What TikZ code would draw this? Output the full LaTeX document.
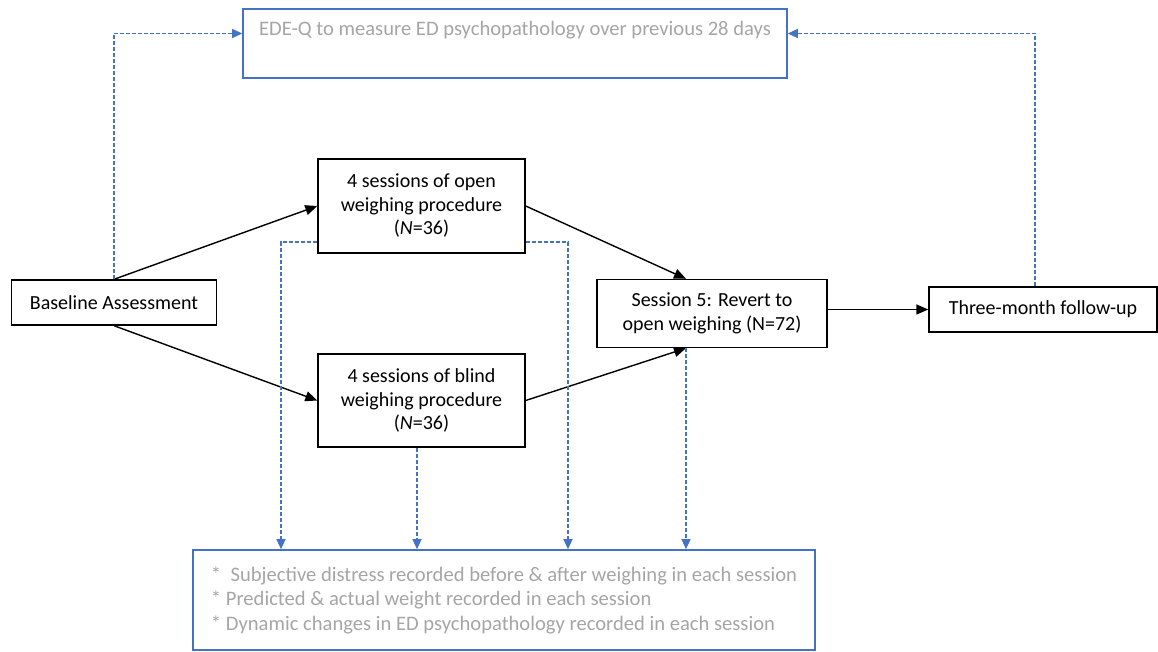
\documentclass[tikz,border=0pt]{standalone}
\usepackage{fontspec}
\setmainfont{Carlito}
\usetikzlibrary{arrows.meta}
\definecolor{edblue}{HTML}{4472C4}
\definecolor{edgrey}{HTML}{A5A5A5}
\begin{document}
\begin{tikzpicture}[x=0.5pt,y=-0.5pt,
    font=\fontsize{10}{11.75}\selectfont,
    box/.style={draw,line width=0.7pt,align=center,inner sep=0pt},
    measbox/.style={draw=edblue,line width=0.8pt,text=edgrey,inner sep=0pt,align=flush left},
    flow/.style={-{Triangle[length=6pt,width=5pt]},line width=0.7pt},
    meas/.style={-{Triangle[length=5pt,width=4.5pt]},draw=edblue,line width=0.6pt,dash pattern=on 2pt off 1pt}]
      \useasboundingbox (0,0) rectangle (1158,652);
      \node[box,minimum width=102.5pt,minimum height=22.5pt] (base) at (114,302.5) {Baseline Assessment};
      \node[box,minimum width=103.5pt,minimum height=47pt] (open) at (421.5,206) {4 sessions of open\\weighing procedure\\(\textit{N}=36)};
      \node[box,minimum width=103.5pt,minimum height=46.5pt] (blind) at (421.5,400.5) {4 sessions of blind\\weighing procedure\\(\textit{N}=36)};
      \node[box,minimum width=115pt,minimum height=34pt] (sess) at (712,313.5) {Session 5: Revert to\\open weighing (N=72)};
      \node[box,minimum width=114pt,minimum height=22.5pt] (follow) at (1043,309.5) {Three-month follow-up};
      \node[measbox,minimum width=272pt,minimum height=34.5pt,text height=13.5pt,text depth=21pt,font=\fontsize{10.3}{12}\selectfont] (ede) at (515,43.5) {EDE-Q to measure ED psychopathology over previous 28 days};
      \node[measbox,minimum width=311pt,minimum height=50pt,font=\fontsize{10.3}{12.25}\selectfont] (rec) at (504,600) {*\ \ Subjective distress recorded before \& after weighing in each session\\{}* Predicted \& actual weight recorded in each session\\{}* Dynamic changes in ED psychopathology recorded in each session};
      \coordinate (t1) at (281,0);
      \coordinate (t2) at (417,0);
      \coordinate (t3) at (568,0);
      \coordinate (t4) at (686,0);
      \coordinate (t5) at (1035,0);
      \begin{scope}[flow]
        \draw (base.north) -- (open.west);
        \draw (base.south) -- (blind.west);
        \draw (open.east) -- (t4 |- sess.north);
        \draw (blind.east) -- (t4 |- sess.south);
        \draw (follow.west -| sess.east) -- (follow.west);
      \end{scope}
      \begin{scope}[meas]
        \draw (base.north) |- ([yshift=5pt]ede.west);
        \draw (t5 |- follow.north) |- ([yshift=5pt]ede.east);
        \draw ([yshift=-18pt]open.west) -| (t1 |- rec.north);
        \draw ([yshift=-18pt]open.east) -| (t3 |- rec.north);
        \draw (t2 |- blind.south) -- (t2 |- rec.north);
        \draw (t4 |- sess.south) -- (t4 |- rec.north);
      \end{scope}
    \end{tikzpicture}
\end{document}
